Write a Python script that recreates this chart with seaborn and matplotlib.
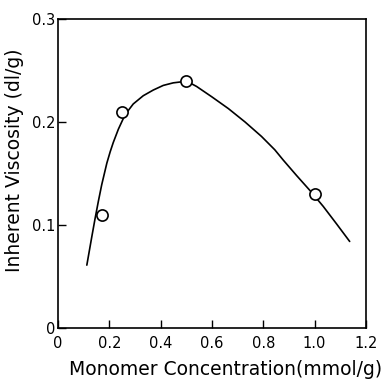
import matplotlib
matplotlib.use("Agg")
import matplotlib.pyplot as plt
import seaborn as sns
import pandas as pd

# measured data points
conc_points = [0.17, 0.25, 0.50, 1.00]
visc_points = [0.110, 0.210, 0.240, 0.130]

# fitted curve
curve_x = [0.112, 0.131, 0.144, 0.157, 0.170, 0.190, 0.203, 0.215, 0.235, 0.261,
           0.293, 0.332, 0.371, 0.410, 0.449, 0.482, 0.510, 0.540, 0.599, 0.664,
           0.729, 0.793, 0.845, 0.878, 0.930, 0.982, 1.034, 1.086, 1.137]
curve_y = [0.061, 0.088, 0.106, 0.123, 0.139, 0.160, 0.171, 0.180, 0.193, 0.207,
           0.2175, 0.2255, 0.231, 0.2355, 0.238, 0.239, 0.2385, 0.2345, 0.2245, 0.213,
           0.200, 0.186, 0.173, 0.163, 0.148, 0.1335, 0.118, 0.101, 0.084]

x_ticks = [0, 0.2, 0.4, 0.6, 0.8, 1.0, 1.2]
x_tick_labels = ["0", "0.2", "0.4", "0.6", "0.8", "1.0", "1.2"]
y_ticks = [0, 0.1, 0.2, 0.3]
y_tick_labels = ["0", "0.1", "0.2", "0.3"]

sns.set_theme(style="ticks")
plt.rcParams["font.family"] = ["DejaVu Sans"]

fig = plt.figure(figsize=(3.9, 3.8), dpi=100)
ax = fig.add_axes([0.149, 0.137, 0.789, 0.813])

curve_df = pd.DataFrame({"x": curve_x, "y": curve_y})
pts_df = pd.DataFrame({"x": conc_points, "y": visc_points})

sns.lineplot(data=curve_df, x="x", y="y", sort=False, color="black", linewidth=1.2, ax=ax)
sns.scatterplot(data=pts_df, x="x", y="y", ax=ax, s=65, facecolor="white",
                edgecolor="black", linewidth=1.2, zorder=3)

ax.set_xlim(0, 1.2)
ax.set_ylim(0, 0.3)
ax.set_xticks(x_ticks)
ax.set_xticklabels(x_tick_labels)
ax.set_yticks(y_ticks)
ax.set_yticklabels(y_tick_labels)
ax.tick_params(direction="in", length=6, width=1, colors="black", labelsize=10.5)
ax.tick_params(axis="x", pad=6)
ax.tick_params(axis="y", pad=2)
for sp in ax.spines.values():
    sp.set_visible(True)
    sp.set_color("black")
    sp.set_linewidth(1.2)

ax.set_xlabel("Monomer Concentration(mmol/g)", fontsize=13.5, color="black")
ax.set_ylabel("Inherent Viscosity (dl/g)", fontsize=13.5, color="black")
ax.xaxis.set_label_coords(0.545, -0.105)
ax.yaxis.set_label_coords(-0.11, 0.544)

fig.savefig("out.png", dpi=100, facecolor="white")
